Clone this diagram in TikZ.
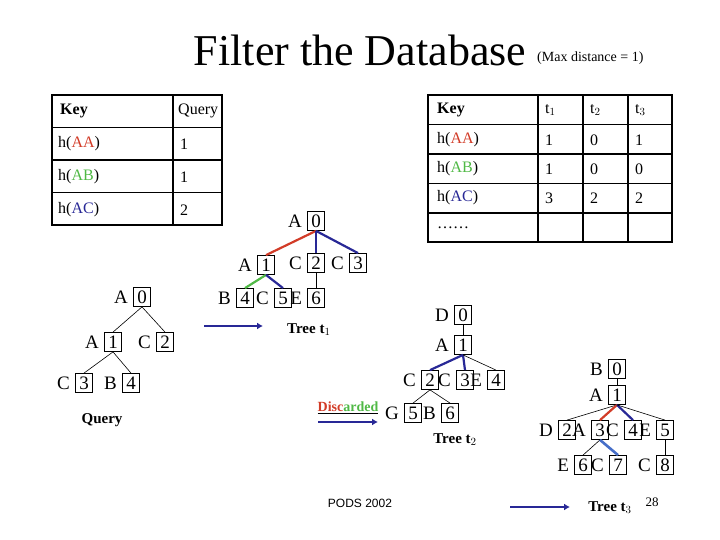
\documentclass[tikz,border=0pt]{standalone}
\usepackage{fontspec}
\setmainfont{Liberation Serif}
\setsansfont{Liberation Sans}
\usetikzlibrary{arrows.meta}
\definecolor{cred}{RGB}{210,60,40}
\definecolor{cgreen}{RGB}{80,185,70}
\definecolor{cblue}{RGB}{40,40,150}
\definecolor{lblue}{RGB}{70,110,200}
\begin{document}
\begin{tikzpicture}[x=1pt,y=-1pt,
  bx/.style={draw,line width=0.8pt,inner sep=0pt,minimum width=17pt,minimum height=19pt,font=\fontsize{19}{19}\selectfont},
  lt/.style={font=\fontsize{19}{19}\selectfont,inner sep=0pt},
  thn/.style={line width=0.6pt},
  bl/.style={line width=2.2pt,cblue},
  rdl/.style={line width=2.2pt,cred},
  gr/.style={line width=2.2pt,cgreen},
  lb/.style={line width=2.6pt,lblue},
  arr/.style={line width=2.6pt,cblue,-{Latex[length=6pt,width=7pt]}},
  cell/.style={font=\fontsize{16}{16}\selectfont,anchor=west,inner sep=0pt},
  capt/.style={font=\bfseries\fontsize{15}{15}\selectfont,inner sep=0pt}]
\useasboundingbox (0,0) rectangle (720,540);
% title
\node[font=\fontsize{44}{44}\selectfont,inner sep=0pt] (title) at (360,50) {Filter the Database};
\node[font=\fontsize{14}{14}\selectfont,inner sep=0pt,anchor=west] (maxd) at (537,58) {(Max distance = 1)};
% left table
\draw[line width=1.4pt] (52,95) rectangle (222,225);
\foreach \y in {127.5,160,192.5} \draw[line width=1.4pt] (52,\y) -- (222,\y);
\draw[line width=1.4pt] (173,95) -- (173,225);
\node[cell,font=\bfseries\fontsize{16}{16}\selectfont] (lk) at (60,111) {Key};
\node[cell] (lq) at (178,111) {Query};
\node[cell] (l1) at (58,144) {h(\textcolor{cred}{AA})};
\node[cell] (l2) at (58,177) {h(\textcolor{cgreen}{AB})};
\node[cell] (l3) at (58,210) {h(\textcolor{cblue}{AC})};
\node[cell] (v1) at (180,144) {1};
\node[cell] (v2) at (180,177) {1};
\node[cell] (v3) at (180,210) {2};
% right table
\draw[line width=1.4pt] (428,95) rectangle (672,242);
\foreach \y in {124.5,154,183.5,213} \draw[line width=1.4pt] (428,\y) -- (672,\y);
\foreach \x in {538,583,628} \draw[line width=1.4pt] (\x,95) -- (\x,242);
\node[cell,font=\bfseries\fontsize{16}{16}\selectfont] (rk) at (437,110) {Key};
\node[cell] (rt1) at (545,110) {t$_1$};
\node[cell] (rt2) at (590,110) {t$_2$};
\node[cell] (rt3) at (635,110) {t$_3$};
\node[cell] (r1) at (437,140) {h(\textcolor{cred}{AA})};
\node[cell] (r2) at (437,169) {h(\textcolor{cgreen}{AB})};
\node[cell] (r3) at (437,198) {h(\textcolor{cblue}{AC})};
\node[cell] (rdots) at (437,228) {……};
\foreach \a/\b/\c/\y in {1/0/1/140,1/0/0/169,3/2/2/198}{
  \node[cell] at (545,\y) {\a}; \node[cell] at (590,\y) {\b}; \node[cell] at (635,\y) {\c};}
% node macro: box + letter
\newcommand{\tn}[4]{\node[bx] (#1) at (#2) {#4}; \node[lt,anchor=east] (#1l) at ([xshift=-5pt]#1.west) {#3};}
% Query tree
\tn{q0}{142,297}{A}{0}
\tn{q1}{113,342}{A}{1}
\tn{q2}{165,342}{C}{2}
\tn{q3}{84,383}{C}{3}
\tn{q4}{131,383}{B}{4}
\draw[thn] (q0.south) -- (q1.north); \draw[thn] (q0.south) -- (q2.north);
\draw[thn] (q1.south) -- (q3.north); \draw[thn] (q1.south) -- (q4.north);
\node[capt] (qc) at (102,420) {Query};
% tree t1
\tn{a0}{316,221}{A}{0}
\tn{a1}{266,265}{A}{1}
\tn{a2}{316,263}{C}{2}
\tn{a3}{358,263}{C}{3}
\tn{a4}{245,298}{B}{4}
\tn{a5}{283,298}{C}{5}
\tn{a6}{316,298}{E}{6}
\draw[rdl] (a0.south) -- (a1.north);
\draw[bl] (a0.south) -- (a2.north);
\draw[bl] (a0.south) -- (a3.north);
\draw[gr] (a1.south) -- (a4.north);
\draw[bl] (a1.south) -- (a5.north);
\draw[thn] (a2.south) -- (a6.north);
\coordinate (s1) at (204,326); \coordinate (e1) at (263,326);
\draw[arr] (s1) -- (e1);
\node[capt,anchor=west] (t1c) at (287,330) {Tree t$_1$};
% tree t2
\tn{b0}{463,315}{D}{0}
\tn{b1}{463,345}{A}{1}
\tn{b2}{430,380}{C}{2}
\tn{b3}{465,380}{C}{3}
\tn{b4}{496,380}{E}{4}
\tn{b5}{413,413}{G}{5}
\tn{b6}{450,413}{B}{6}
\draw[thn] (b0.south) -- (b1.north);
\draw[bl] (b1.south) -- (b2.north);
\draw[bl] (b1.south) -- (b3.north);
\draw[thn] (b1.south) -- (b4.north);
\draw[thn] (b2.south) -- (b5.north);
\draw[thn] (b2.south) -- (b6.north);
\node[capt] (t2c) at (455,440) {Tree t$_2$};
\node[font=\bfseries\fontsize{14}{14}\selectfont,inner sep=0pt] (disc) at (348,408) {\underline{\textcolor{cred}{Disc}\textcolor{cgreen}{arded}}};
\coordinate (s2) at (318,422); \coordinate (e2) at (378,422);
\draw[arr] (s2) -- (e2);
% tree t3
\tn{c0}{617,369}{B}{0}
\tn{c1}{617,395}{A}{1}
\tn{c2}{567,430}{D}{2}
\tn{c3}{600,430}{A}{3}
\tn{c4}{633,430}{C}{4}
\tn{c5}{665,430}{E}{5}
\tn{c6}{583,465}{E}{6}
\tn{c7}{618,465}{C}{7}
\tn{c8}{665,465}{C}{8}
\draw[thn] (c0.south) -- (c1.north);
\draw[thn] (c1.south) -- (c2.north);
\draw[rdl] (c1.south) -- (c3.north);
\draw[bl] (c1.south) -- (c4.north);
\draw[thn] (c1.south) -- (c5.north);
\draw[thn] (c3.south) -- (c6.north);
\draw[lb] (c3.south) -- (c7.north);
\draw[thn] (c5.south) -- (c8.north);
\coordinate (s3) at (510,507); \coordinate (e3) at (570,507);
\draw[arr] (s3) -- (e3);
\node[capt] (t3c) at (610,508) {Tree t$_3$};
% footer
\node[font=\sffamily\fontsize{12}{12}\selectfont,inner sep=0pt] (pods) at (360,503) {PODS 2002};
\node[font=\fontsize{13}{13}\selectfont,inner sep=0pt] (pg) at (652,502) {28};
\end{tikzpicture}
\end{document}
